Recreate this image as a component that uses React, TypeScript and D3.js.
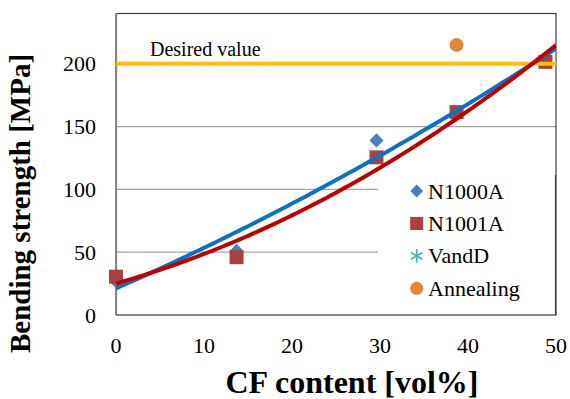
import React from "react";
import * as d3 from "d3";

// Bending strength measurements vs. carbon-fibre volume fraction
const cfContent = [0, 13.7, 29.6, 38.7, 48.8];
const n1000a = [27, 51, 139, 160, 204];
const n1001a = [30.5, 46, 125.5, 161.5, 201.5];
const vandDx = [38.7];
const vandD = [159.5];
const annealingX = [38.7];
const annealing = [215];
const desiredValue = 200;
const xTicks = [0, 10, 20, 30, 40, 50];
const yTicks = [0, 50, 100, 150, 200];
// Second-order trendline coefficients [a, b, c] for y = a + b·x + c·x²
const trendN1000A = [21.2, 3.078, 0.01479];
const trendN1001A = [25.1, 1.986, 0.0362];

const W = 570;
const H = 399;
const FONT = '"Liberation Serif"';

export default function App() {
  const x = d3.scaleLinear().domain([0, 50]).range([116, 556]);
  const y = d3.scaleLinear().domain([0, 240]).range([315, 13.5]);

  const poly = (c: number[]) => (v: number) => c[0] + c[1] * v + c[2] * v * v;
  const xs = d3.range(0, 50.001, 0.5);
  const line = d3.line<number>().x((v) => x(v));
  const trendPath = (c: number[]) => line.y((v) => y(poly(c)(v)))(xs) || "";

  const diamond = d3.symbol(d3.symbolSquare, 100)() || "";
  const square = d3.symbol(d3.symbolSquare, 196)() || "";
  const circle = d3.symbol(d3.symbolCircle, 154)() || "";
  const asterisk = d3.symbol(d3.symbolAsterisk, 150)() || "";
  const diamondL = d3.symbol(d3.symbolSquare, 82)() || "";
  const squareL = d3.symbol(d3.symbolSquare, 170)() || "";
  const circleL = d3.symbol(d3.symbolCircle, 135)() || "";
  const asteriskL = d3.symbol(d3.symbolAsterisk, 130)() || "";

  const blue = "#4A7EBB";
  const red = "#A8423F";
  const teal = "#4BACC6";
  const orange = "#E0873D";

  const legendItems = [
    { label: "N1000A", kind: "diamond" },
    { label: "N1001A", kind: "square" },
    { label: "VandD", kind: "asterisk" },
    { label: "Annealing", kind: "circle" },
  ];
  const legendY = d3.scalePoint<string>().domain(legendItems.map((d) => d.label)).range([191, 288.3]);

  const marker = (kind: string, legend: boolean) => {
    if (kind === "diamond")
      return <path d={legend ? diamondL : diamond} transform="rotate(45)" fill={blue} />;
    if (kind === "square") return <path d={legend ? squareL : square} fill={red} />;
    if (kind === "circle") return <path d={legend ? circleL : circle} fill={orange} />;
    return <path d={legend ? asteriskL : asterisk} fill="none" stroke={teal} strokeWidth={1.6} />;
  };

  const txt = { fontFamily: FONT };

  return (
    <svg
      width={W}
      height={H}
      style={{ position: "absolute", left: 0, top: 0, display: "block", background: "#fff" }}
    >
      <defs>
        <clipPath id="plot-clip">
          <rect x={116} y={13.5} width={440} height={301.5} />
        </clipPath>
      </defs>
      <rect x={0} y={0} width={W} height={H} fill="#fff" />

      {/* gridlines */}
      {yTicks.filter((t) => t > 0).map((t) => (
        <line key={t} x1={116} x2={556} y1={y(t)} y2={y(t)} stroke="#a6a6a6" strokeWidth={1.3} />
      ))}

      {/* plot frame */}
      <rect x={116.5} y={13.5} width={439.5} height={301.5} fill="none" stroke="#404040" strokeWidth={1.2} />
      <line x1={116} x2={116} y1={13} y2={315} stroke="#868686" strokeWidth={2} />
      <line x1={116} x2={556} y1={315} y2={315} stroke="#868686" strokeWidth={2} />

      {/* data markers */}
      {cfContent.map((c, i) => (
        <g key={"a" + i} transform={`translate(${x(c)},${y(n1000a[i])})`}>{marker("diamond", false)}</g>
      ))}
      {vandDx.map((c, i) => (
        <g key={"v" + i} transform={`translate(${x(c)},${y(vandD[i])})`}>{marker("asterisk", false)}</g>
      ))}
      {cfContent.map((c, i) => (
        <g key={"b" + i} transform={`translate(${x(c)},${y(n1001a[i])})`}>{marker("square", false)}</g>
      ))}
      {annealingX.map((c, i) => (
        <g key={"n" + i} transform={`translate(${x(c)},${y(annealing[i])})`}>{marker("circle", false)}</g>
      ))}

      {/* desired value */}
      <line x1={116} x2={556} y1={y(desiredValue)} y2={y(desiredValue)} stroke="#FFC000" strokeWidth={4} />
      <text x={150} y={56} fontSize={20} fill="#000" style={txt}>Desired value</text>

      {/* trendlines */}
      <g clipPath="url(#plot-clip)">
        <path d={trendPath(trendN1000A)} fill="none" stroke="#0A72C4" strokeWidth={4} />
        <path d={trendPath(trendN1001A)} fill="none" stroke="#C00000" strokeWidth={4} />
      </g>

      {/* legend */}
      <rect x={378} y={175} width={177} height={139} fill="#fff" />
      <line x1={555.5} x2={555.5} y1={175} y2={315} stroke="#404040" strokeWidth={1.2} />
      {legendItems.map((d) => (
        <g key={d.label} transform={`translate(0,${legendY(d.label)})`}>
          <g transform="translate(416.7,0)">{marker(d.kind, true)}</g>
          <text x={428} y={7.5} fontSize={22} fill="#000" style={txt}>{d.label}</text>
        </g>
      ))}

      {/* axis tick labels */}
      {yTicks.map((t) => (
        <text key={t} x={96} y={y(t) + 7.5} textAnchor="end" fontSize={22} fill="#000" style={txt}>{t}</text>
      ))}
      {xTicks.map((t) => (
        <text key={t} x={x(t)} y={353} textAnchor="middle" fontSize={22} fill="#000" style={txt}>{t}</text>
      ))}

      {/* axis titles */}
      <text x={352} y={393} textAnchor="middle" fontSize={32} fontWeight="bold" fill="#000" style={txt}>
        CF content [vol%]
      </text>
      <text
        transform="translate(30,203.5) rotate(-90)"
        textAnchor="middle"
        fontSize={29}
        fontWeight="bold"
        fill="#000"
        style={txt}
      >
        Bending strength [MPa]
      </text>
    </svg>
  );
}
